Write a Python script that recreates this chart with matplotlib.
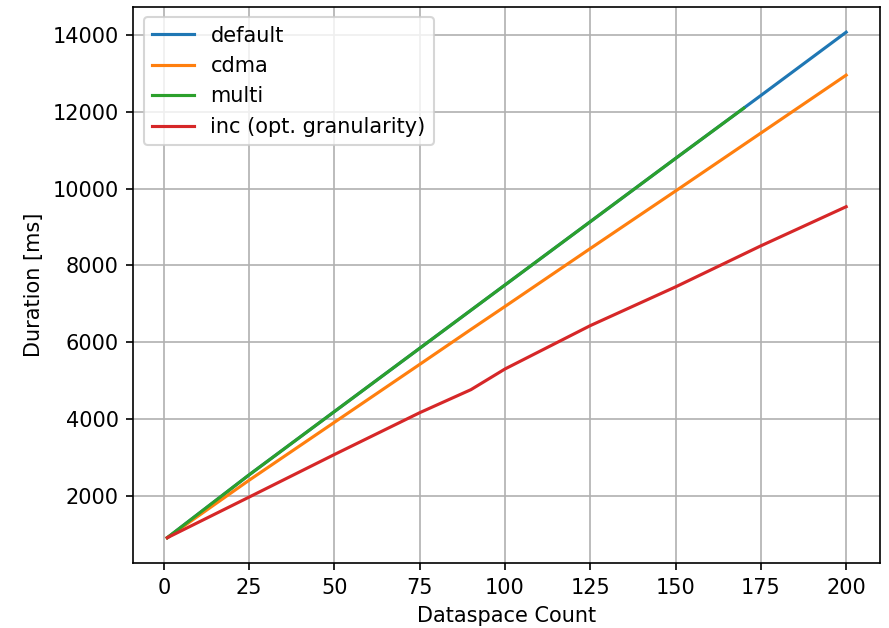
import numpy as np
import matplotlib
matplotlib.use("Agg")
import matplotlib.pyplot as plt

x = [1, 25, 50, 75, 90, 100, 125, 150, 175, 200]
default = [900, 2540, 4190, 5840, 6830, 7490, 9140, 10790, 12430, 14080]
cdma = [900, 2400, 3910, 5420, 6330, 6930, 8440, 9940, 11450, 12960]
x_multi = [1, 25, 50, 75, 90, 100, 125, 150, 170]
multi = [900, 2540, 4190, 5840, 6830, 7490, 9140, 10790, 12100]
inc = [900, 1960, 3070, 4160, 4760, 5300, 6430, 7440, 8510, 9530]

DPI = 150
fig = plt.figure(figsize=(889 / DPI, 628 / DPI), dpi=DPI)
ax = fig.add_axes([0.150, 0.1035, 0.840, 0.8855])

ax.plot(x, default, label="default")
ax.plot(x, cdma, label="cdma")
ax.plot(x_multi, multi, label="multi")
ax.plot(x, inc, label="inc (opt. granularity)")

ax.set_xticks([0, 25, 50, 75, 100, 125, 150, 175, 200])
ax.set_xlabel("Dataspace Count")
ax.set_ylabel("Duration [ms]")
ax.grid(True)
ax.legend(loc="upper left")

fig.savefig("out.png", dpi=DPI)
